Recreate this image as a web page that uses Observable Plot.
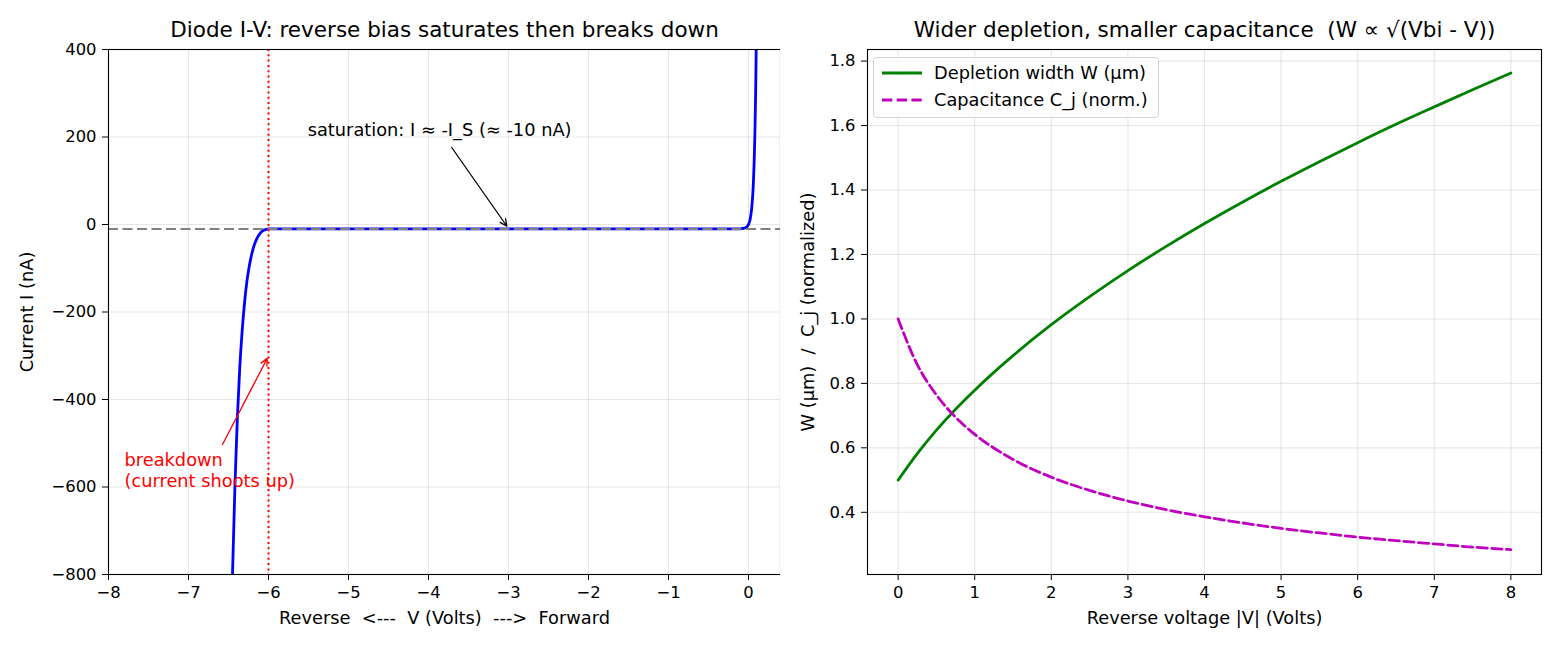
<!DOCTYPE html>
<html>
<head>
<meta charset="utf-8">
<script src="https://cdn.jsdelivr.net/npm/d3@7"></script>
<script src="https://cdn.jsdelivr.net/npm/@observablehq/plot@0.6"></script>
<style>
  body { margin: 0; background: #fff; font-family: "DejaVu Sans", sans-serif; }
  #wrap { position: relative; width: 1560px; height: 650px; display: flex; }
  #wrap svg { display: block; }
  .legend { position: absolute; left: 873px; top: 57px; width: 284px; height: 59px;
            border: 1px solid #d4d4d4; border-radius: 4px; background: rgba(255,255,255,0.85);
            font-size: 17.8px; color: #000; }
  .legend .item { position: absolute; left: 0; height: 0; }
  .legend svg { position: absolute; left: 7px; top: -5px; }
  .legend span { position: absolute; left: 60px; top: -11px; line-height: 21px; white-space: nowrap; }
</style>
</head>
<body>
<div id="wrap"></div>
<script>
// ---- Diode I-V curve (left panel) ----
const ivVolts   = [-6.48, -6.45, -6.42, -6.39, -6.36, -6.33, -6.30, -6.27, -6.24, -6.21, -6.18, -6.15, -6.12, -6.09, -6.06, -6.03, -6.00,
                   -5, -4, -3, -2, -1, -0.2, -0.1, -0.05, -0.02, 0, 0.02, 0.04, 0.06, 0.07, 0.08, 0.09, 0.10];
const ivCurrent = [-1050, -800, -600, -445, -330, -245, -180, -130, -95, -68, -48, -34, -24, -17, -13, -11, -10,
                   -10, -10, -10, -10, -10, -10, -9.8, -8.5, -5.4, 0, 11.6, 36.6, 90.5, 138, 207, 308, 458];
const satCurrent = -10;     // reverse saturation current, nA
const breakdownVolts = -6;  // breakdown voltage marker
const ivXTicks = [-8, -7, -6, -5, -4, -3, -2, -1, 0];
const ivYTicks = [-800, -600, -400, -200, 0, 200, 400];

// annotation texts and their arrows (x1,y1 → x2,y2 in data units)
const satNote = "saturation: I ≈ -I_S (≈ -10 nA)";
const satNoteAt = [-5.51, 215];
const satArrow = [-3.71, 176, -3.02, -4];
const bdNote = "breakdown\n(current shoots up)";
const bdNoteAt = [-7.8, -560];
const bdArrow = [-6.575, -503, -6.016, -306];

// ---- Depletion width / junction capacitance (right panel) ----
const revVolts    = [0, 0.25, 0.5, 0.75, 1, 1.5, 2, 2.5, 3, 3.5, 4, 4.5, 5, 5.5, 6, 6.5, 7, 7.5, 8];
const depWidth    = [0.500, 0.582, 0.655, 0.720, 0.779, 0.886, 0.982, 1.069, 1.150, 1.225, 1.296, 1.363, 1.427, 1.488, 1.547, 1.604, 1.658, 1.711, 1.763];
const capacitance = [1.000, 0.858, 0.764, 0.695, 0.642, 0.564, 0.509, 0.468, 0.435, 0.408, 0.386, 0.367, 0.350, 0.336, 0.323, 0.312, 0.302, 0.292, 0.284];
const cvXTicks = [0, 1, 2, 3, 4, 5, 6, 7, 8];
const cvYTicks = [0.4, 0.6, 0.8, 1.0, 1.2, 1.4, 1.6, 1.8];
const seriesNames = ["Depletion width W (µm)", "Capacitance C_j (norm.)"];

const titles = ["Diode I-V: reverse bias saturates then breaks down",
                "Wider depletion, smaller capacitance  (W ∝ √(Vbi - V))"];
const xLabels = ["Reverse  <---  V (Volts)  --->  Forward", "Reverse voltage |V| (Volts)"];
const yLabels = ["Current I (nA)", "W (µm)  /  C_j (normalized)"];

const font = '"DejaVu Sans", sans-serif';
const TICK_FS = 16.4;   // tick labels
const LABEL_FS = 17.8;  // axis labels, notes, legend
const TITLE_FS = 21.5;  // panel titles
const gridStyle = {stroke: "#b0b0b0", strokeOpacity: 0.3, strokeWidth: 1.1};
const axisStyle = {tickSize: 6, tickPadding: 6, label: null, fontSize: TICK_FS};
const centered = {textAnchor: "middle", lineAnchor: "middle"};

const ivData = ivVolts.map((v, i) => ({v, i: ivCurrent[i]}));
const cvData = revVolts.map((v, k) => ({v, w: depWidth[k], c: capacitance[k]}));

const left = Plot.plot({
  width: 780, height: 650,
  marginLeft: 108, marginRight: 0, marginTop: 49, marginBottom: 76,
  style: {fontFamily: font, fontSize: TICK_FS + "px", color: "black", background: "white", overflow: "visible"},
  x: {domain: [-8, 0.4]},
  y: {domain: [-800, 400]},
  marks: [
    Plot.gridX(ivXTicks, gridStyle),
    Plot.gridY(ivYTicks, gridStyle),
    Plot.line(ivData, {x: "v", y: "i", stroke: "#0000ff", strokeWidth: 2.8, curve: "monotone-x", clip: true}),
    Plot.ruleY([satCurrent], {stroke: "gray", strokeWidth: 2, strokeDasharray: "10,4.5"}),
    Plot.ruleX([breakdownVolts], {stroke: "#ff0000", strokeWidth: 2, strokeDasharray: "2,3.3"}),
    Plot.text([satNote], {x: satNoteAt[0], y: satNoteAt[1], text: d => d, textAnchor: "start", lineAnchor: "middle", fontSize: LABEL_FS, fill: "black"}),
    Plot.arrow([satArrow], {x1: d => d[0], y1: d => d[1], x2: d => d[2], y2: d => d[3], stroke: "black", strokeWidth: 1.3, headLength: 9, headAngle: 50}),
    Plot.text([bdNote], {x: bdNoteAt[0], y: bdNoteAt[1], text: d => d, textAnchor: "start", lineAnchor: "middle", lineHeight: 1.22, fontSize: LABEL_FS, fill: "#ff0000"}),
    Plot.arrow([bdArrow], {x1: d => d[0], y1: d => d[1], x2: d => d[2], y2: d => d[3], stroke: "#ff0000", strokeWidth: 1.3, headLength: 9, headAngle: 50}),
    Plot.frame({stroke: "black", strokeWidth: 1.1}),
    Plot.axisX({ticks: ivXTicks, ...axisStyle}),
    Plot.axisY({ticks: ivYTicks, ...axisStyle}),
    Plot.text([titles[0]], {frameAnchor: "top", dy: -19, text: d => d, fontSize: TITLE_FS, ...centered}),
    Plot.text([xLabels[0]], {frameAnchor: "bottom", dy: 44, text: d => d, fontSize: LABEL_FS, ...centered}),
    Plot.text([yLabels[0]], {frameAnchor: "left", dx: -81, rotate: -90, text: d => d, fontSize: LABEL_FS, ...centered})
  ]
});

const right = Plot.plot({
  width: 780, height: 650,
  marginLeft: 87, marginRight: 19, marginTop: 49, marginBottom: 76,
  style: {fontFamily: font, fontSize: TICK_FS + "px", color: "black", background: "white", overflow: "visible"},
  x: {domain: [-0.4, 8.4]},
  y: {domain: [0.207, 1.836]},
  marks: [
    Plot.gridX(cvXTicks, gridStyle),
    Plot.gridY(cvYTicks, gridStyle),
    Plot.line(cvData, {x: "v", y: "w", stroke: "#008000", strokeWidth: 2.8, curve: "monotone-x"}),
    Plot.line(cvData, {x: "v", y: "c", stroke: "#bf00bf", strokeWidth: 2.8, strokeDasharray: "10.3,4.4", curve: "monotone-x"}),
    Plot.frame({stroke: "black", strokeWidth: 1.1}),
    Plot.axisX({ticks: cvXTicks, ...axisStyle}),
    Plot.axisY({ticks: cvYTicks, tickFormat: d3.format(".1f"), ...axisStyle}),
    Plot.text([titles[1]], {frameAnchor: "top", dy: -19, text: d => d, fontSize: TITLE_FS, ...centered}),
    Plot.text([xLabels[1]], {frameAnchor: "bottom", dy: 44, text: d => d, fontSize: LABEL_FS, ...centered}),
    Plot.text([yLabels[1]], {frameAnchor: "left", dx: -59, rotate: -90, text: d => d, fontSize: LABEL_FS, ...centered})
  ]
});

const wrap = document.getElementById("wrap");
wrap.appendChild(left);
wrap.appendChild(right);

// legend for the right panel
const legendStyles = [
  {stroke: "#008000", dash: null},
  {stroke: "#bf00bf", dash: "10.3,4.4"}
];
const legend = document.createElement("div");
legend.className = "legend";
seriesNames.forEach((name, k) => {
  const item = document.createElement("div");
  item.className = "item";
  item.style.top = (15 + 27 * k) + "px";
  const dash = legendStyles[k].dash ? ` stroke-dasharray="${legendStyles[k].dash}"` : "";
  item.innerHTML = `<svg width="42" height="10"><line x1="1" y1="5" x2="41" y2="5" stroke="${legendStyles[k].stroke}" stroke-width="2.8"${dash}/></svg><span>${name}</span>`;
  legend.appendChild(item);
});
wrap.appendChild(legend);
</script>
</body>
</html>
